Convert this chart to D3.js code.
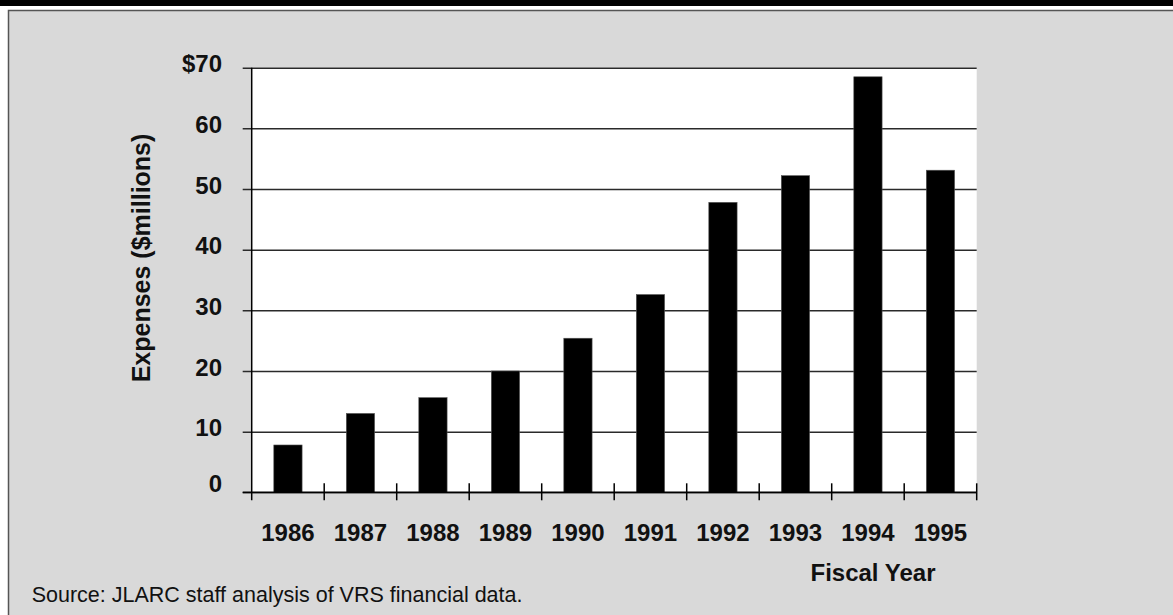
<!DOCTYPE html>
<html>
<head>
<meta charset="utf-8">
<script src="https://cdn.jsdelivr.net/npm/d3@7/dist/d3.min.js"></script>
<style>
  html, body { margin: 0; padding: 0; background: #ffffff; }
  svg { display: block; }
</style>
</head>
<body>
<script>
// Annual expenses, fiscal years 1986-1995 ($ millions)
const years = ["1986", "1987", "1988", "1989", "1990", "1991", "1992", "1993", "1994", "1995"];
const expenses = [7.8, 13.0, 15.6, 20.0, 25.4, 32.6, 47.8, 52.2, 68.5, 53.1];
const yTicks = [0, 10, 20, 30, 40, 50, 60, 70];
const yTickLabels = ["0", "10", "20", "30", "40", "50", "60", "$70"];

const W = 1173, H = 615;
const plot = { left: 251.7, right: 976.7, top: 67.7, bottom: 492.3 };

const svg = d3.select("body").append("svg")
  .attr("width", W).attr("height", H);

// Header band and framed grey panel
svg.append("rect").attr("x", 0).attr("y", 0).attr("width", W).attr("height", 6).attr("fill", "#000");
svg.append("rect").attr("x", 8.5).attr("y", 10.5).attr("width", W).attr("height", H)
  .attr("fill", "#d9d9d9").attr("stroke", "#555").attr("stroke-width", 1.5);

const x = d3.scaleBand().domain(years).range([plot.left, plot.right])
  .paddingInner(0.61).paddingOuter(0.305);
const xCat = d3.scaleBand().domain(years).range([plot.left, plot.right]).padding(0);
const y = d3.scaleLinear().domain([0, 70]).range([plot.bottom, plot.top]);

// White plotting area
svg.append("rect")
  .attr("x", plot.left).attr("y", plot.top)
  .attr("width", plot.right - plot.left).attr("height", plot.bottom - plot.top)
  .attr("fill", "#fff");

// Horizontal gridlines with outward ticks on the value axis
const yAxis = d3.axisLeft(y).tickValues(yTicks)
  .tickSize(-(plot.right - plot.left)).tickSizeOuter(0).tickFormat("");
const gy = svg.append("g").attr("transform", `translate(${plot.left},0)`).call(yAxis);
gy.select(".domain").remove();
gy.selectAll(".tick line").attr("stroke", "#2a2a2a").attr("stroke-width", 1.5)
  .attr("x1", -9);

// Bars
svg.append("g").selectAll("rect").data(years).join("rect")
  .attr("x", d => x(d))
  .attr("width", x.bandwidth())
  .attr("y", (d, i) => y(expenses[i]))
  .attr("height", (d, i) => y(0) - y(expenses[i]))
  .attr("fill", "#000")
  .attr("stroke", "#555").attr("stroke-width", 0.6);

// Value axis line
svg.append("line").attr("x1", plot.left).attr("x2", plot.left)
  .attr("y1", plot.top).attr("y2", plot.bottom + 8)
  .attr("stroke", "#000").attr("stroke-width", 1.5);

// Category axis: baseline plus ticks at the boundaries between years
svg.append("line").attr("x1", plot.left - 9).attr("x2", plot.right)
  .attr("y1", plot.bottom).attr("y2", plot.bottom)
  .attr("stroke", "#000").attr("stroke-width", 1.5);
const boundaries = years.slice(1).map(d => xCat(d)).concat([xCat(years[years.length - 1]) + xCat.bandwidth()]);
svg.append("g").selectAll("line").data(boundaries).join("line")
  .attr("x1", d => d).attr("x2", d => d)
  .attr("y1", plot.bottom - 9).attr("y2", plot.bottom + 8)
  .attr("stroke", "#000").attr("stroke-width", 1.5);

const font = "'Liberation Sans', Arial, Helvetica, sans-serif";

// Value labels
svg.append("g").selectAll("text").data(yTicks).join("text")
  .attr("x", 222)
  .attr("y", d => y(d) - (d === 0 ? 9 : 4))
  .attr("dy", "0.36em")
  .attr("text-anchor", "end")
  .attr("font-family", font).attr("font-weight", "bold").attr("font-size", 24)
  .attr("fill", "#111")
  .text((d, i) => yTickLabels[i]);

// Year labels
svg.append("g").selectAll("text").data(years).join("text")
  .attr("x", d => xCat(d) + xCat.bandwidth() / 2)
  .attr("y", 540.5)
  .attr("text-anchor", "middle")
  .attr("font-family", font).attr("font-weight", "bold").attr("font-size", 24)
  .attr("fill", "#111")
  .text(d => d);

// Axis titles
svg.append("text")
  .attr("transform", "translate(150,258) rotate(-90)")
  .attr("text-anchor", "middle")
  .attr("font-family", font).attr("font-weight", "bold").attr("font-size", 25)
  .attr("fill", "#111")
  .text("Expenses ($millions)");

svg.append("text")
  .attr("x", 873).attr("y", 581)
  .attr("text-anchor", "middle")
  .attr("font-family", font).attr("font-weight", "bold").attr("font-size", 24)
  .attr("fill", "#111")
  .text("Fiscal Year");

// Source note
svg.append("text")
  .attr("x", 31.7).attr("y", 601.5)
  .attr("font-family", font).attr("font-size", 21.5)
  .attr("fill", "#111")
  .text("Source:  JLARC staff analysis of VRS financial data.");
</script>
</body>
</html>
